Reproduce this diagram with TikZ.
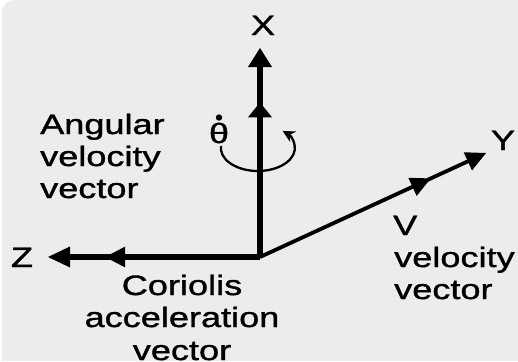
\documentclass[tikz,border=0pt]{standalone}
\usepackage{fontspec}
\newfontfamily\labfont[FakeStretch=1.29,FakeBold=1.3]{Liberation Sans}
\usetikzlibrary{arrows.meta,calc}
\definecolor{bggray}{HTML}{ECECEC}
\tikzset{
  lab/.style={inner sep=0pt, font=\labfont\fontsize{28}{32}\selectfont, text=black},
  axisthick/.style={line width=6pt},
  axisthin/.style={line width=3.8pt},
  rotarrow/.style={line width=2.3pt, -{Stealth[length=12pt,width=12pt]}}
}
% filled triangular arrowhead: tip, point it comes from, length, half width
\newcommand\tipTri[4]{%
  \path ($(#1)!#3!(#2)$) coordinate (tb);
  \fill (#1) -- ($(tb)!#4!90:(#1)$) -- ($(tb)!#4!-90:(#1)$) -- cycle;}
\begin{document}
\begin{tikzpicture}[x=1pt,y=-1pt]
\useasboundingbox (0,0) rectangle (518,361);
\fill[white] (0,0) rectangle (518,361);
\fill[bggray] (518,361) -- (1.5,361) -- (1.5,15) .. controls (1.5,6) and (7,0) .. (16,0) -- (518,0) -- cycle;
% axes
\coordinate (O) at (260,257);
\coordinate (Xt) at (260,48);
\coordinate (Zt) at (48,257);
\coordinate (Yt) at (486,153);
\coordinate (Xm) at ($(O)!0.74!(Xt)$);
\coordinate (Zm) at ($(O)!0.73!(Zt)$);
\coordinate (Ym) at ($(O)!0.755!(Yt)$);
\draw[axisthin] (O) -- ($(Yt)!10pt!(O)$);
\tipTri{Yt}{O}{20pt}{10pt}
\tipTri{Ym}{O}{20pt}{10pt}
\draw[axisthick] (O) -- ($(Xt)!10pt!(O)$);
\tipTri{Xt}{O}{19pt}{12pt}
\tipTri{Xm}{O}{15pt}{12pt}
\draw[axisthick] (O) -- ($(Zt)!10pt!(O)$);
\tipTri{Zt}{O}{22pt}{10.5pt}
\tipTri{Zm}{O}{20pt}{10.5pt}
% rotation arrow
\draw[rotarrow] (221,146) arc[start angle=185, end angle=-48, x radius=37, y radius=23];
% labels
\node[lab, anchor=base] (xl) at (263,35) {X};
\node[lab, anchor=base] (yl) at (503,150) {Y};
\node[lab, anchor=base] (zl) at (22,267) {Z};
\node[lab, anchor=base] (th) at (219,143) {θ};
\fill (th.north) ++(0,-5) circle[radius=3.2];
\node[lab, anchor=base west] (a1) at (40,134) {Angular};
\node[lab, anchor=base west] (a2) at (40,166) {velocity};
\node[lab, anchor=base west] (a3) at (40,198) {vector};
\node[lab, anchor=base west] (v0) at (393,235) {V};
\node[lab, anchor=base west] (v1) at (394,267) {velocity};
\node[lab, anchor=base west] (v2) at (394,299) {vector};
\node[lab, anchor=base] (c1) at (182,295) {Coriolis};
\node[lab, anchor=base] (c2) at (182,327) {acceleration};
\node[lab, anchor=base] (c3) at (182,360) {vector};
\end{tikzpicture}
\end{document}
